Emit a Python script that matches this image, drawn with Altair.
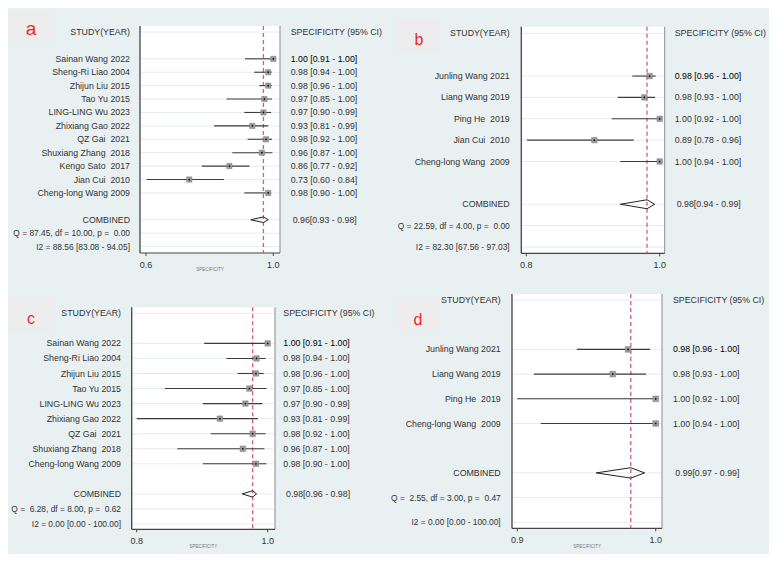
import altair as alt
import pandas as pd

# ---------------- data ----------------
NB = "\u00a0"

# panel a
names_a = ["Sainan Wang 2022", "Sheng-Ri Liao 2004", "Zhijun Liu 2015", "Tao Yu 2015",
           "LING-LING Wu 2023", "Zhixiang Gao 2022", "QZ Gai" + NB + " 2021",
           "Shuxiang Zhang" + NB + " 2018", "Kengo Sato" + NB + " 2017",
           "Jian Cui" + NB + " 2010", "Cheng-long Wang 2009"]
est_a = [1.000, 0.984, 0.984, 0.972, 0.969, 0.934, 0.977, 0.964, 0.862, 0.736, 0.984]
lo_a = [0.911, 0.940, 0.956, 0.853, 0.909, 0.814, 0.919, 0.871, 0.775, 0.602, 0.909]
hi_a = [1.000, 0.995, 0.995, 0.996, 0.993, 0.984, 0.996, 0.997, 0.925, 0.845, 0.993]
ci_a = ["1.00 [0.91 - 1.00]", "0.98 [0.94 - 1.00]", "0.98 [0.96 - 1.00]", "0.97 [0.85 - 1.00]",
        "0.97 [0.90 - 0.99]", "0.93 [0.81 - 0.99]", "0.98 [0.92 - 1.00]", "0.96 [0.87 - 1.00]",
        "0.86 [0.77 - 0.92]", "0.73 [0.60 - 0.84]", "0.98 [0.90 - 1.00]"]
comb_a = [0.929, 0.969, 0.984]          # lower, estimate, upper of the diamond
ref_a = 0.969
comb_text_a = "0.96[0.93 - 0.98]"
q_a = "Q = 87.45, df = 10.00, p =" + NB + " 0.00"
i2_a = "I2 = 88.56 [83.08 - 94.05]"
ticks_a = [0.6, 1.0]
ticklab_a = ["0.6", "1.0"]

# panel b
names_b = ["Junling Wang 2021", "Liang Wang 2019", "Ping He" + NB + " 2019",
           "Jian Cui" + NB + " 2010", "Cheng-long Wang" + NB + " 2009"]
est_b = [0.985, 0.977, 1.000, 0.902, 1.000]
lo_b = [0.959, 0.937, 0.928, 0.801, 0.941]
hi_b = [0.994, 0.993, 1.000, 0.961, 1.000]
ci_b = ["0.98 [0.96 - 1.00]", "0.98 [0.93 - 1.00]", "1.00 [0.92 - 1.00]",
        "0.89 [0.78 - 0.96]", "1.00 [0.94 - 1.00]"]
comb_b = [0.941, 0.981, 0.9925]
ref_b = 0.981
comb_text_b = "0.98[0.94 - 0.99]"
q_b = "Q = 22.59, df = 4.00, p =" + NB + " 0.00"
i2_b = "I2 = 82.30 [67.56 - 97.03]"
ticks_b = [0.8, 1.0]
ticklab_b = ["0.8", "1.0"]

# panel c
names_c = ["Sainan Wang 2022", "Sheng-Ri Liao 2004", "Zhijun Liu 2015", "Tao Yu 2015",
           "LING-LING Wu 2023", "Zhixiang Gao 2022", "QZ Gai" + NB + " 2021",
           "Shuxiang Zhang" + NB + " 2018", "Cheng-long Wang 2009"]
est_c = [1.000, 0.983, 0.982, 0.972, 0.966, 0.927, 0.977, 0.962, 0.982]
lo_c = [0.903, 0.937, 0.954, 0.843, 0.901, 0.800, 0.913, 0.862, 0.901]
hi_c = [1.000, 0.997, 0.994, 0.998, 0.992, 0.985, 0.997, 0.995, 0.998]
ci_c = ["1.00 [0.91 - 1.00]", "0.98 [0.94 - 1.00]", "0.98 [0.96 - 1.00]", "0.97 [0.85 - 1.00]",
        "0.97 [0.90 - 0.99]", "0.93 [0.81 - 0.99]", "0.98 [0.92 - 1.00]", "0.96 [0.87 - 1.00]",
        "0.98 [0.90 - 1.00]"]
comb_c = [0.961, 0.977, 0.983]
ref_c = 0.977
comb_text_c = "0.98[0.96 - 0.98]"
q_c = "Q =" + NB + " 6.28, df = 8.00, p =" + NB + " 0.62"
i2_c = "I2 = 0.00 [0.00 - 100.00]"
ticks_c = [0.8, 1.0]
ticklab_c = ["0.8", "1.0"]

# panel d
names_d = ["Junling Wang 2021", "Liang Wang 2019", "Ping He" + NB + " 2019",
           "Cheng-long Wang" + NB + " 2009"]
est_d = [0.980, 0.969, 1.000, 1.000]
lo_d = [0.943, 0.912, 0.900, 0.917]
hi_d = [0.996, 0.993, 1.000, 1.000]
ci_d = ["0.98 [0.96 - 1.00]", "0.98 [0.93 - 1.00]", "1.00 [0.92 - 1.00]", "1.00 [0.94 - 1.00]"]
comb_d = [0.957, 0.982, 0.992]
ref_d = 0.982
comb_text_d = "0.99[0.97 - 0.99]"
q_d = "Q =" + NB + " 2.55, df = 3.00, p =" + NB + " 0.47"
i2_d = "I2 = 0.00 [0.00 - 100.00]"
ticks_d = [0.9, 1.0]
ticklab_d = ["0.9", "1.0"]

# ---------------- layout (page pixels) ----------------
W, H, M = 761, 546, 8
FONT = "Liberation Sans"
TXT = "#333333"
BG = "#e9f0f2"

lay_a = dict(tick_px=[146.0, 273.3], row0=32.0, step=13.41, plot=(140, 280, 26, 253),
             left=130.0, right=290.7, comb=292.7, box=(7, 54, 12, 42),
             letter=(31, 35, 19), title_y=270, sq=28)
lay_b = dict(tick_px=[526.3, 659.7], row0=33.3, step=21.37, plot=(521.3, 664.7, 26.7, 253.3),
             left=509.7, right=674.7, comb=676.7, box=(395, 441, 19, 52),
             letter=(419, 45, 16), title_y=None, sq=30)
lay_c = dict(tick_px=[136.7, 267.7], row0=313.3, step=15.05, plot=(131.7, 275, 307.3, 529.3),
             left=121.0, right=283.3, comb=286.0, box=(7, 54, 298, 331),
             letter=(31, 323.5, 16), title_y=546.7, sq=30)
lay_d = dict(tick_px=[517.3, 655.7], row0=300.0, step=24.7, plot=(512, 662, 294, 528.3),
             left=500.7, right=673.0, comb=675.3, box=(395, 441, 298, 330),
             letter=(418, 324.5, 16), title_y=546.7, sq=32)


def px(v):
    return v - M


one = pd.DataFrame({"k": [0]})


def make_panel(letter, names, est, lo, hi, ci, comb, ref, comb_text, q_text, i2_text,
               ticks, ticklab, L):
    s = (L["tick_px"][1] - L["tick_px"][0]) / (ticks[1] - ticks[0])
    xd0 = ticks[0] - px(L["tick_px"][0]) / s
    xs = alt.Scale(domain=[xd0, xd0 + W / s], nice=False, zero=False)
    yd0 = -px(L["row0"]) / L["step"]
    ys = alt.Scale(domain=[yd0, yd0 + H / L["step"]], nice=False, zero=False, reverse=True)

    n = len(names)
    rows = list(range(2, n + 2))
    comb_row, q_row, i2_row = n + 3, n + 4, n + 5
    pl, pr, pt, pb = L["plot"]

    studies = pd.DataFrame({"est": est, "lo": lo, "hi": hi, "row": rows})
    left_df = pd.DataFrame({"t": ["STUDY(YEAR)"] + names + ["COMBINED"],
                            "row": [0] + rows + [comb_row]})
    stat_df = pd.DataFrame({"t": [q_text, i2_text], "row": [q_row, i2_row]})
    right_df = pd.DataFrame({"t": ["SPECIFICITY (95% CI)"] + ci,
                             "row": [0] + rows,
                             "c": [TXT, "#000000"] + [TXT] * (n - 1)})
    comb_df = pd.DataFrame({"t": [comb_text], "row": [comb_row]})
    grid_df = pd.DataFrame({"row": [0] + rows + [comb_row, q_row, i2_row]})
    h = 0.21
    dia = pd.DataFrame({"x": [comb[0], comb[1], comb[2], comb[1], comb[0]],
                        "y": [comb_row, comb_row - h, comb_row, comb_row + h, comb_row],
                        "i": [0, 1, 2, 3, 4]})
    tick_df = pd.DataFrame({"v": ticks, "lab": ticklab})
    ref_df = pd.DataFrame({"ref": [ref]})

    Y = lambda f: alt.Y(f, scale=ys, axis=None)
    X = lambda f: alt.X(f, scale=xs, axis=None)

    layers = []
    bx0, bx1, by0, by1 = L["box"]
    layers.append(alt.Chart(one).mark_rect(color="#ededed").encode(
        x=alt.value(px(bx0)), x2=alt.value(px(bx1)), y=alt.value(px(by0)), y2=alt.value(px(by1))))
    lx, ly, lfs = L["letter"]
    layers.append(alt.Chart(one).mark_text(text=letter, font=FONT, fontSize=lfs, color="#f02828",
                                           align="center", baseline="alphabetic").encode(
        x=alt.value(px(lx)), y=alt.value(px(ly))))
    # white plot region
    layers.append(alt.Chart(one).mark_rect(color="white").encode(
        x=alt.value(px(pl)), x2=alt.value(px(pr)), y=alt.value(px(pt)), y2=alt.value(px(pb))))
    # faint row lines
    layers.append(alt.Chart(grid_df).mark_rule(color="#e4ecef", strokeWidth=1).encode(
        x=alt.value(px(pl)), x2=alt.value(px(pr)), y=Y("row:Q")))
    # frame lines
    layers.append(alt.Chart(one).mark_rule(color="#444444", strokeWidth=1.3).encode(
        x=alt.value(px(pl)), y=alt.value(px(pt)), y2=alt.value(px(pb))))
    layers.append(alt.Chart(one).mark_rule(color="#8a8a8a", strokeWidth=1).encode(
        x=alt.value(px(pr)), y=alt.value(px(pt)), y2=alt.value(px(pb))))
    layers.append(alt.Chart(one).mark_rule(color="#444444", strokeWidth=1.2).encode(
        x=alt.value(px(pl)), x2=alt.value(px(pr)), y=alt.value(px(pb))))
    # ticks and tick labels
    layers.append(alt.Chart(tick_df).mark_rule(color="#444444", strokeWidth=1).encode(
        x=X("v:Q"), y=alt.value(px(pb)), y2=alt.value(px(pb) + 3)))
    layers.append(alt.Chart(tick_df).mark_text(font=FONT, fontSize=9, color=TXT,
                                               align="center", baseline="middle").encode(
        x=X("v:Q"), y=alt.value(px(pb) + 12), text="lab:N"))
    if L["title_y"] is not None:
        layers.append(alt.Chart(one).mark_text(text="SPECIFICITY", font=FONT, fontSize=4.5,
                                               color="#777777", align="center",
                                               baseline="middle").encode(
            x=alt.value(px((pl + pr) / 2)), y=alt.value(px(L["title_y"]))))
    # reference line
    layers.append(alt.Chart(ref_df).mark_rule(color="#d65a7c", strokeWidth=1.3,
                                              strokeDash=[4, 3]).encode(
        x=X("ref:Q"), y=alt.value(px(pt)), y2=alt.value(px(pb))))
    # confidence intervals
    layers.append(alt.Chart(studies).mark_rule(color="#3c3c3c", strokeWidth=1.1).encode(
        x=X("lo:Q"), x2="hi:Q", y=Y("row:Q")))
    # squares and centre dots
    layers.append(alt.Chart(studies).mark_square(size=L["sq"], color="#9c9c9c", opacity=1,
                                                 stroke="#7a7a7a", strokeWidth=0.5).encode(
        x=X("est:Q"), y=Y("row:Q")))
    layers.append(alt.Chart(studies).mark_circle(size=3, color="black", opacity=1).encode(
        x=X("est:Q"), y=Y("row:Q")))
    # pooled diamond
    layers.append(alt.Chart(dia).mark_line(color="#222222", strokeWidth=1).encode(
        x=X("x:Q"), y=Y("y:Q"), order="i:Q"))
    # text columns
    layers.append(alt.Chart(left_df).mark_text(font=FONT, fontSize=8.8, color=TXT,
                                               align="right", baseline="middle").encode(
        x=alt.value(px(L["left"])), y=Y("row:Q"), text="t:N"))
    layers.append(alt.Chart(stat_df).mark_text(font=FONT, fontSize=8.4, color=TXT,
                                               align="right", baseline="middle").encode(
        x=alt.value(px(L["left"])), y=Y("row:Q"), text="t:N"))
    layers.append(alt.Chart(right_df).mark_text(font=FONT, fontSize=8.8,
                                                align="left", baseline="middle").encode(
        x=alt.value(px(L["right"])), y=Y("row:Q"), text="t:N",
        color=alt.Color("c:N", scale=None)))
    layers.append(alt.Chart(comb_df).mark_text(font=FONT, fontSize=8.8, color=TXT,
                                               align="left", baseline="middle").encode(
        x=alt.value(px(L["comb"])), y=Y("row:Q"), text="t:N"))
    return alt.layer(*layers)


pa = make_panel("a", names_a, est_a, lo_a, hi_a, ci_a, comb_a, ref_a, comb_text_a, q_a, i2_a,
                ticks_a, ticklab_a, lay_a)
pb = make_panel("b", names_b, est_b, lo_b, hi_b, ci_b, comb_b, ref_b, comb_text_b, q_b, i2_b,
                ticks_b, ticklab_b, lay_b)
pc = make_panel("c", names_c, est_c, lo_c, hi_c, ci_c, comb_c, ref_c, comb_text_c, q_c, i2_c,
                ticks_c, ticklab_c, lay_c)
pd_ = make_panel("d", names_d, est_d, lo_d, hi_d, ci_d, comb_d, ref_d, comb_text_d, q_d, i2_d,
                 ticks_d, ticklab_d, lay_d)

chart = alt.layer(pa, pb, pc, pd_).resolve_scale(
    x="independent", y="independent"
).properties(
    width=W, height=H, background=BG, padding=0,
    autosize=alt.AutoSizeParams(type="none"),
).configure_view(stroke=None)

chart.save("out.html", embed_options={"renderer": "svg", "actions": False})
